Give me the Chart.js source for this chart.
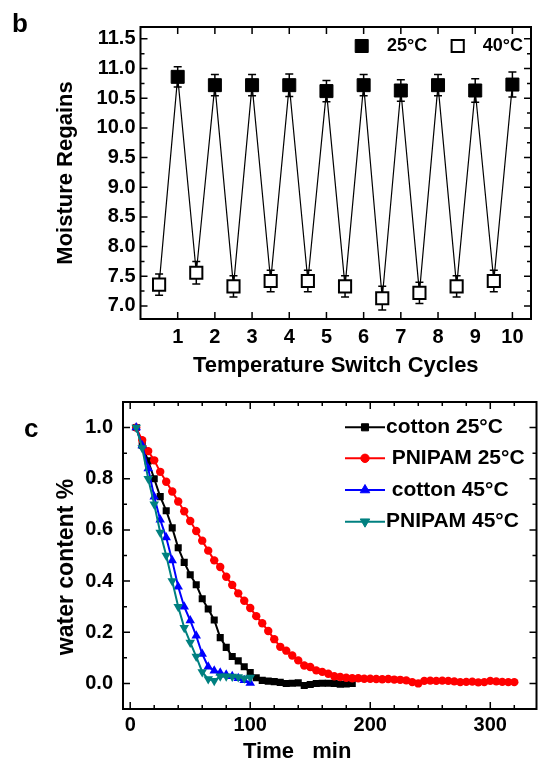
<!DOCTYPE html>
<html>
<head>
<meta charset="utf-8">
<script src="https://cdn.jsdelivr.net/npm/chart.js@4.4.1/dist/chart.umd.min.js"></script>
<style>
  body { margin: 0; background: #fff; width: 542px; height: 762px; position: relative; overflow: hidden; }
  canvas { position: absolute; left: 0; }
  #cycles { top: 0; }
  #drying { top: 380px; }
</style>
</head>
<body>
<canvas id="cycles" width="542" height="380"></canvas>
<canvas id="drying" width="542" height="382"></canvas>
<script>
// panel b - moisture regain over temperature switch cycles
const cycles25 = [1, 2, 3, 4, 5, 6, 7, 8, 9, 10];
const regain25 = [10.86, 10.72, 10.72, 10.72, 10.62, 10.72, 10.63, 10.72, 10.63, 10.73];
const regain25Err = [0.17, 0.18, 0.18, 0.19, 0.18, 0.18, 0.18, 0.18, 0.2, 0.21];
const cycles40 = [0.5, 1.5, 2.5, 3.5, 4.5, 5.5, 6.5, 7.5, 8.5, 9.5];
const regain40 = [7.36, 7.56, 7.33, 7.42, 7.42, 7.33, 7.13, 7.22, 7.33, 7.42];
const regain40Err = [0.18, 0.19, 0.18, 0.18, 0.18, 0.18, 0.2, 0.18, 0.18, 0.18];
const cycleTicks = [1, 2, 3, 4, 5, 6, 7, 8, 9, 10];
const regainTicks = [7.0, 7.5, 8.0, 8.5, 9.0, 9.5, 10.0, 10.5, 11.0, 11.5];

// panel c - drying curves
const cotton25Time = [5, 10, 15, 20, 25, 30, 35, 40, 45, 50, 55, 60, 65, 70, 75, 80, 85, 90, 95, 100,
  105, 110, 115, 120, 125, 130, 135, 140, 145, 150, 155, 160, 165, 170, 175, 180, 185];
const cotton25 = [1.0, 0.93, 0.87, 0.8, 0.73, 0.675, 0.608, 0.53, 0.473, 0.425, 0.386, 0.331, 0.291, 0.248,
  0.179, 0.141, 0.105, 0.088, 0.065, 0.043, 0.022, 0.012, 0.009, 0.007, 0.004, 0.0, 0.001, 0.002, -0.008,
  -0.004, 0.0, 0.001, 0.001, 0.0, -0.003, -0.002, 0.0];
const pnipam25Time = [5, 10, 15, 20, 25, 30, 35, 40, 45, 50, 55, 60, 65, 70, 75, 80, 85, 90, 95, 100,
  105, 110, 115, 120, 125, 130, 135, 140, 145, 150, 155, 160, 165, 170, 175, 180, 185, 190, 195, 200,
  205, 210, 215, 220, 225, 230, 235, 240, 245, 250, 255, 260, 265, 270, 275, 280, 285, 290, 295, 300,
  305, 310, 315, 320];
const pnipam25 = [1.0, 0.951, 0.908, 0.872, 0.827, 0.788, 0.75, 0.711, 0.673, 0.635, 0.596, 0.558, 0.519,
  0.481, 0.455, 0.417, 0.385, 0.352, 0.323, 0.295, 0.263, 0.235, 0.205, 0.173, 0.143, 0.128, 0.109, 0.09,
  0.07, 0.064, 0.051, 0.045, 0.038, 0.028, 0.025, 0.022, 0.02, 0.02, 0.018, 0.018, 0.017, 0.016, 0.017,
  0.015, 0.014, 0.012, 0.005, 0.0, 0.01, 0.011, 0.01, 0.011, 0.01, 0.008, 0.005, 0.006, 0.007, 0.004,
  0.005, 0.01, 0.008, 0.006, 0.005, 0.005];
const cotton45Time = [5, 10, 15, 20, 25, 30, 35, 40, 45, 50, 55, 60, 65, 70, 75, 80, 85, 90, 95, 100];
const cotton45 = [1.0, 0.93, 0.84, 0.73, 0.64, 0.57, 0.48, 0.378, 0.3, 0.246, 0.186, 0.115, 0.065, 0.05,
  0.042, 0.034, 0.028, 0.02, 0.012, 0.002];
const pnipam45Time = [5, 10, 15, 20, 25, 30, 35, 40, 45, 50, 55, 60, 65, 70, 75, 80, 85, 90, 95, 100];
const pnipam45 = [1.0, 0.92, 0.8, 0.7, 0.59, 0.5, 0.4, 0.3, 0.218, 0.16, 0.105, 0.045, 0.017, 0.01,
  0.028, 0.028, 0.027, 0.025, 0.02, 0.023];
const timeTicks = [0, 100, 200, 300];
const contentTicks = [0.0, 0.2, 0.4, 0.6, 0.8, 1.0];

Chart.defaults.font.family = '"Liberation Sans", Arial, sans-serif';
Chart.defaults.color = '#000';

const pts = (xs, ys) => xs.map((v, i) => ({ x: v, y: ys[i] }));

const drawMarker = (ctx, ds, x, y) => {
  const r = ds.pointRadius;
  ctx.save();
  ctx.fillStyle = ds.pointBackgroundColor || ds.backgroundColor;
  ctx.strokeStyle = ds.borderColor;
  ctx.lineWidth = ds.pointBorderWidth || 1;
  ctx.beginPath();
  if (ds.pointStyle === 'rect') {
    const h = Math.SQRT1_2 * r;
    ctx.rect(x - h, y - h, 2 * h, 2 * h);
  } else if (ds.pointStyle === 'triangle') {
    const s = ds.pointRotation === 180 ? -1 : 1;
    ctx.moveTo(x, y - s * r);
    ctx.lineTo(x + r * 0.866, y + s * r * 0.5);
    ctx.lineTo(x - r * 0.866, y + s * r * 0.5);
    ctx.closePath();
  } else {
    ctx.arc(x, y, r, 0, Math.PI * 2);
  }
  ctx.fill();
  ctx.stroke();
  ctx.restore();
};

// legend drawn at fixed spots, styles taken from the datasets
const keyPlugin = {
  id: 'key',
  afterDraw(chart, args, opts) {
    const { ctx } = chart;
    ctx.save();
    ctx.font = `bold ${opts.size}px "Liberation Sans", Arial, sans-serif`;
    ctx.textBaseline = 'middle';
    ctx.fillStyle = '#000';
    opts.items.forEach((it) => {
      const ds = chart.data.datasets[it.ds];
      if (it.line) {
        ctx.strokeStyle = ds.borderColor;
        ctx.lineWidth = ds.borderWidth;
        ctx.beginPath();
        ctx.moveTo(it.line[0], it.y);
        ctx.lineTo(it.line[1], it.y);
        ctx.stroke();
      }
      drawMarker(ctx, ds, it.x, it.y);
      ctx.fillStyle = '#000';
      ctx.fillText(ds.label, it.tx, it.y);
    });
    ctx.restore();
  },
};

// Origin-style frame with inward ticks on all four sides
const framePlugin = {
  id: 'frame',
  afterDatasetsDraw(chart, args, opts) {
    const { ctx, chartArea: { left, right, top, bottom }, scales } = chart;
    ctx.save();
    ctx.strokeStyle = '#000';
    ctx.lineWidth = 1.5;
    const minors = (scale, step, majors) => {
      const out = [];
      for (let v = Math.ceil(scale.min / step) * step; v <= scale.max + 1e-9; v += step) {
        if (!majors.some((m) => Math.abs(m - v) < 1e-6)) out.push(v);
      }
      return out;
    };
    const x = scales.x;
    const y = scales.y;
    const xMaj = x.ticks.map((t) => t.value);
    const yMaj = y.ticks.map((t) => t.value);
    const xMin = opts.xMinor ? minors(x, opts.xMinor, xMaj) : [];
    const yMin = opts.yMinor ? minors(y, opts.yMinor, yMaj) : [];
    ctx.beginPath();
    [[xMaj, 7], [xMin, 4]].forEach(([vals, len]) => vals.forEach((v) => {
      const px = x.getPixelForValue(v);
      ctx.moveTo(px, bottom); ctx.lineTo(px, bottom - len);
      if (opts.topTicks) { ctx.moveTo(px, top); ctx.lineTo(px, top + len); }
    }));
    [[yMaj, 7], [yMin, 4]].forEach(([vals, len]) => vals.forEach((v) => {
      const py = y.getPixelForValue(v);
      ctx.moveTo(left, py); ctx.lineTo(left + len, py);
      ctx.moveTo(right, py); ctx.lineTo(right - len, py);
    }));
    ctx.stroke();
    ctx.lineWidth = 2;
    ctx.strokeRect(left, top, right - left, bottom - top);
    ctx.restore();
  },
};

const errorPlugin = {
  id: 'errors',
  beforeDatasetsDraw(chart) {
    const { ctx, scales: { x, y } } = chart;
    ctx.save();
    ctx.strokeStyle = '#000';
    ctx.lineWidth = 1.5;
    ctx.beginPath();
    chart.data.datasets.forEach((ds) => {
      if (!ds.errors) return;
      ds.data.forEach((p, i) => {
        const px = x.getPixelForValue(p.x);
        const hi = y.getPixelForValue(p.y + ds.errors[i]);
        const lo = y.getPixelForValue(p.y - ds.errors[i]);
        ctx.moveTo(px, hi); ctx.lineTo(px, lo);
        ctx.moveTo(px - 4, hi); ctx.lineTo(px + 4, hi);
        ctx.moveTo(px - 4, lo); ctx.lineTo(px + 4, lo);
      });
    });
    ctx.stroke();
    ctx.restore();
  },
};

const captionPlugin = {
  id: 'captions',
  afterDraw(chart, args, opts) {
    const { ctx } = chart;
    opts.items.forEach((c) => {
      ctx.save();
      ctx.font = `bold ${c.size}px "Liberation Sans", Arial, sans-serif`;
      ctx.fillStyle = '#000';
      ctx.textAlign = c.align || 'left';
      ctx.textBaseline = c.baseline || 'alphabetic';
      ctx.translate(c.x, c.y);
      if (c.rotate) ctx.rotate(c.rotate);
      ctx.fillText(c.text, 0, 0);
      ctx.restore();
    });
  },
};

const tickFont = { size: 20, weight: 'bold' };
const noGrid = { display: false, drawTicks: false };

// interleave the two temperatures for the connecting zig-zag line
const zigzag = [];
cycles40.forEach((c, i) => {
  zigzag.push({ x: c, y: regain40[i] });
  zigzag.push({ x: cycles25[i], y: regain25[i] });
});

new Chart(document.getElementById('cycles'), {
  type: 'scatter',
  data: {
    datasets: [
      {
        label: '25°C', data: pts(cycles25, regain25), errors: regain25Err,
        pointStyle: 'rect', pointRadius: 9.2, backgroundColor: '#000', borderColor: '#000', pointBorderWidth: 1,
      },
      {
        label: '40°C', data: pts(cycles40, regain40), errors: regain40Err,
        pointStyle: 'rect', pointRadius: 8.6, backgroundColor: '#fff', borderColor: '#000', pointBorderWidth: 2,
      },
      {
        label: 'cycle', data: zigzag, showLine: true, borderColor: '#000', borderWidth: 1.2, pointRadius: 0,
      },
    ],
  },
  options: {
    responsive: false,
    animation: false,
    events: [],
    layout: { padding: { left: 0, right: 11, top: 27, bottom: 0 } },
    plugins: {
      legend: { display: false },
      tooltip: { enabled: false },
      frame: { yMinor: 0.25, topTicks: true },
      key: {
        size: 18,
        items: [
          { ds: 0, x: 361.7, y: 46, tx: 387 },
          { ds: 1, x: 457.7, y: 46, tx: 482.7 },
        ],
      },
      captions: { items: [{ text: 'b', x: 12, y: 32, size: 26 }] },
    },
    scales: {
      x: {
        type: 'linear', min: 0, max: 10.5,
        grid: noGrid, border: { display: false },
        afterBuildTicks: (s) => { s.ticks = cycleTicks.map((v) => ({ value: v })); },
        afterFit: (s) => { s.height = 61; },
        ticks: { font: tickFont, padding: 6, maxRotation: 0, autoSkip: false },
        title: { display: true, text: 'Temperature Switch Cycles', font: { size: 22, weight: 'bold' }, padding: { top: 0, bottom: 1 } },
      },
      y: {
        min: 6.78, max: 11.7,
        grid: noGrid, border: { display: false },
        afterBuildTicks: (s) => { s.ticks = regainTicks.map((v) => ({ value: v })); },
        afterFit: (s) => { s.width = 140.5; },
        ticks: { font: tickFont, padding: 5, callback: (v) => v.toFixed(1) },
        title: { display: true, text: 'Moisture Regains', font: { size: 22, weight: 'bold' }, padding: { top: 53, bottom: 0 } },
      },
    },
  },
  plugins: [errorPlugin, framePlugin, keyPlugin, captionPlugin],
});

new Chart(document.getElementById('drying'), {
  type: 'scatter',
  data: {
    datasets: [
      {
        label: 'cotton 25°C', data: pts(cotton25Time, cotton25), showLine: true, order: 3,
        borderColor: '#000', backgroundColor: '#000', borderWidth: 2, pointStyle: 'rect', pointRadius: 5, pointBorderWidth: 0,
      },
      {
        label: 'PNIPAM 25°C', data: pts(pnipam25Time, pnipam25), showLine: true, order: 2,
        borderColor: '#ff0000', backgroundColor: '#ff0000', borderWidth: 2, pointStyle: 'circle', pointRadius: 4.2, pointBorderWidth: 0,
      },
      {
        label: 'cotton 45°C', data: pts(cotton45Time, cotton45), showLine: true, order: 1,
        borderColor: '#0000ff', backgroundColor: '#0000ff', borderWidth: 2, pointStyle: 'triangle', pointRadius: 5.5, pointBorderWidth: 0,
      },
      {
        label: 'PNIPAM 45°C', data: pts(pnipam45Time, pnipam45), showLine: true, order: 0,
        borderColor: '#008080', backgroundColor: '#008080', borderWidth: 2, pointStyle: 'triangle', pointRotation: 180, pointRadius: 5.5, pointBorderWidth: 0,
      },
    ],
  },
  options: {
    responsive: false,
    animation: false,
    events: [],
    layout: { padding: { left: 0, right: 1, top: 18, bottom: 0 } },
    plugins: {
      legend: { display: false },
      tooltip: { enabled: false },
      frame: { xMinor: 20, yMinor: 0.1, topTicks: true },
      key: {
        size: 21,
        items: [
          { ds: 0, x: 365, y: 47.3, tx: 386, line: [345, 385] },
          { ds: 1, x: 365, y: 78.3, tx: 391.7, line: [345, 385] },
          { ds: 2, x: 365, y: 110, tx: 391.7, line: [345, 385] },
          { ds: 3, x: 365, y: 141.7, tx: 386, line: [345, 385] },
        ],
      },
      captions: {
        items: [
          { text: 'c', x: 24, y: 57, size: 26 },
          { text: 'Time   min', x: 243, y: 378, size: 22 },
          { text: 'water content %', x: 73, y: 187, size: 23, align: 'center', rotate: -Math.PI / 2 },
        ],
      },
    },
    scales: {
      x: {
        type: 'linear', min: -6, max: 338.5,
        grid: noGrid, border: { display: false },
        afterBuildTicks: (s) => { s.ticks = timeTicks.map((v) => ({ value: v })); },
        afterFit: (s) => { s.height = 53; },
        ticks: { font: tickFont, padding: 4, maxRotation: 0, autoSkip: false },
      },
      y: {
        min: -0.1, max: 1.1,
        grid: noGrid, border: { display: false },
        afterBuildTicks: (s) => { s.ticks = contentTicks.map((v) => ({ value: v })); },
        afterFit: (s) => { s.width = 123; },
        ticks: { font: tickFont, padding: 10, callback: (v) => v.toFixed(1) },
      },
    },
  },
  plugins: [framePlugin, keyPlugin, captionPlugin],
});
</script>
</body>
</html>
